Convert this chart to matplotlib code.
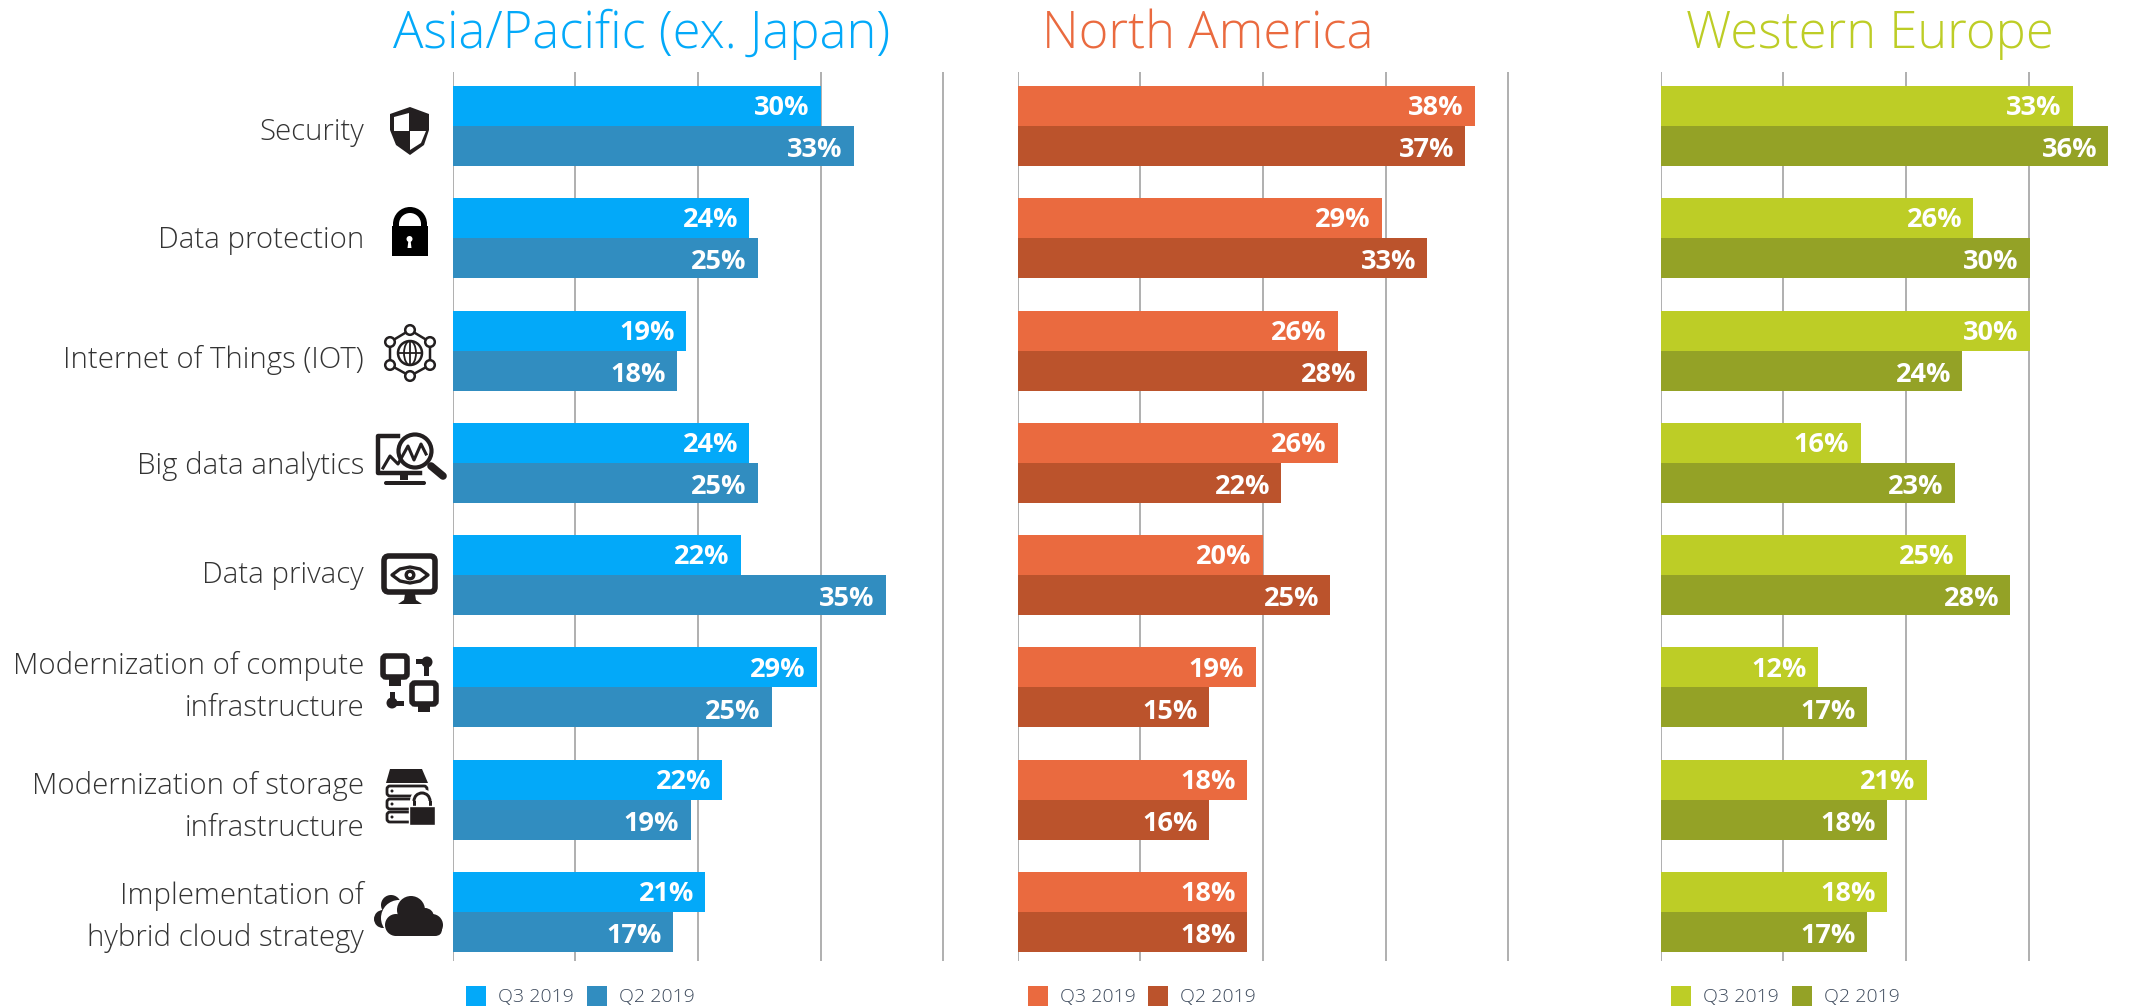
import numpy as np
import matplotlib
matplotlib.use("Agg")
import matplotlib.pyplot as plt
from matplotlib.patches import Circle, Ellipse, FancyBboxPatch, Polygon, Rectangle, Wedge

plt.rcParams["font.family"] = ["Open Sans", "DejaVu Sans"]

regions = ["Asia/Pacific (ex. Japan)", "North America", "Western Europe"]
q3_labels = [[30, 24, 19, 24, 22, 29, 22, 21],
             [38, 29, 26, 26, 20, 19, 18, 18],
             [33, 26, 30, 16, 25, 12, 21, 18]]
q2_labels = [[33, 25, 18, 25, 35, 25, 19, 17],
             [37, 33, 28, 22, 25, 15, 16, 18],
             [36, 30, 24, 23, 28, 17, 18, 17]]
# drawn bar lengths in the picture do not always agree with the printed labels
q3_bars = [[30.0, 24.2, 19.0, 24.2, 23.5, 29.7, 22.0, 20.6],
           [37.3, 29.7, 26.1, 26.1, 20.0, 19.4, 18.7, 18.7],
           [33.6, 25.5, 30.1, 16.3, 24.9, 12.8, 21.7, 18.5]]
q2_bars = [[32.7, 24.9, 18.3, 24.9, 35.3, 26.0, 19.4, 18.0],
           [36.5, 33.4, 28.5, 21.5, 25.5, 15.6, 15.6, 18.7],
           [36.5, 30.1, 24.6, 24.0, 28.5, 16.8, 18.5, 16.8]]
series_names = ["Q3 2019", "Q2 2019"]
q3_colors = ["#03A9F9", "#EA6A3F", "#BDCD26"]
q2_colors = ["#318DC0", "#BB532C", "#94A226"]
gridlines = [[0, 10, 20, 30, 40], [0, 10, 20, 30, 40], [0, 10, 20, 30]]
categories = [["Security"], ["Data protection"], ["Internet of Things (IOT)"],
              ["Big data analytics"], ["Data privacy"],
              ["Modernization of compute", "infrastructure"],
              ["Modernization of storage", "infrastructure"],
              ["Implementation of", "hybrid cloud strategy"]]
baselines = [[140], [248], [368], [474], [583], [674, 716], [794, 836], [904, 946]]

W, H = 2144, 1006
PX_PER_UNIT = 12.27
fig = plt.figure(figsize=(W / 100, H / 100), dpi=100, facecolor="white")

# pixel overlay for text, icons and legend
ov = fig.add_axes([0, 0, 1, 1], zorder=5)
ov.set_xlim(0, W)
ov.set_ylim(H, 0)
ov.axis("off")

axis_left = [452.5, 1017.5, 1660.5]
title_centers = [642, 1208, 1870]
legend_x = [(466, 587), (1028, 1148), (1671, 1792)]
y_top, y_bottom = 72, 961
first_center, step = 126, 112.29

for r, name in enumerate(regions):
    left = axis_left[r]
    ax = fig.add_axes([left / W, 0, (W - left) / W, 1], zorder=1)
    ax.patch.set_alpha(0)
    ax.set_xlim(0, (W - left) / PX_PER_UNIT)
    ax.set_ylim((H - first_center) / step, -first_center / step)
    ax.axis("off")
    ax.vlines(gridlines[r], (y_top - first_center) / step, (y_bottom - first_center) / step,
              color="#9a9a9a", lw=1.1, zorder=1)
    y = np.arange(8)
    h = 40 / step
    b3 = ax.barh(y - h / 2, q3_bars[r], height=h, color=q3_colors[r], zorder=2)
    b2 = ax.barh(y + h / 2, q2_bars[r], height=h, color=q2_colors[r], zorder=2)
    for bars, labels, dy in ((b3, q3_labels[r], -1.5), (b2, q2_labels[r], -3)):
        texts = ax.bar_label(bars, labels=[f"{v}%" for v in labels], label_type="edge", padding=-8,
                             color="white", fontsize=19.5, fontweight="bold", zorder=3)
        for t in texts:
            t.set_ha("right")
            t.xyann = (t.xyann[0], t.xyann[1] + dy)
    ov.text(title_centers[r], 48, name, color=q3_colors[r], fontsize=36.5, fontweight="light",
            ha="center", va="baseline")
    for k, xs in enumerate(legend_x[r]):
        ov.add_patch(Rectangle((xs, 986), 20, 20, color=(q3_colors, q2_colors)[k][r], lw=0))
        ov.text(xs + 32, 1002, series_names[k], color="#3d4a5c", fontsize=14, fontweight="light",
                ha="left", va="baseline")

for lines, ys in zip(categories, baselines):
    for line, yb in zip(lines, ys):
        ov.text(364, yb, line, color="#333333", fontsize=21.2, fontweight="light", ha="right", va="baseline")

ink = "#231f20"


def add(p):
    ov.add_patch(p)


# shield
add(Polygon([(410, 107), (429, 114), (429, 130), (424, 145), (410, 155), (396, 145), (390, 130), (390, 114)],
            closed=True, color=ink, lw=0))
add(Polygon([(409, 113), (409, 131), (394, 131), (394, 117)], closed=True, color="white", lw=0))
add(Polygon([(410, 131), (426, 131), (421, 143), (410, 150)], closed=True, color="white", lw=0))
# lock
add(Rectangle((392, 226), 36, 30, color="black", lw=0))
add(Wedge((410, 224), 17, 180, 360, width=6, color="black", lw=0))
add(Rectangle((393, 223), 6, 4, color="black", lw=0))
add(Rectangle((421, 223), 6, 4, color="black", lw=0))
add(Circle((409.5, 239), 3, color="white", lw=0))
add(Polygon([(408.5, 240), (410.5, 240), (411.5, 248), (407.5, 248)], color="white", lw=0))
# globe with network nodes
add(Circle((410, 353), 12, fc="none", ec=ink, lw=1.8))
add(Ellipse((410, 353), 12, 24, fc="none", ec=ink, lw=1.3))
ov.plot([398, 422], [353, 353], color=ink, lw=1.3)
ov.plot([410, 410], [341, 365], color=ink, lw=1.3)
nodes = [(410, 330), (410, 376), (390, 342), (430, 342), (390, 365), (430, 365)]
ring = [0, 3, 5, 1, 4, 2, 0]
ov.plot([nodes[i][0] for i in ring], [nodes[i][1] for i in ring], color=ink, lw=1.8)
for n in nodes:
    add(Circle(n, 4.8, fc="white", ec=ink, lw=1.8, zorder=4))
# monitor with magnifier
ov.plot([398, 378, 378, 420], [436, 436, 473, 473], color=ink, lw=3.2, solid_joinstyle="round")
add(Rectangle((400, 474), 8, 6, color=ink, lw=0))
add(FancyBboxPatch((384, 481), 42, 4, boxstyle="round,pad=0,rounding_size=2", color=ink, lw=0))
add(Circle((415, 451), 16.5, fc="white", ec=ink, lw=3, zorder=3))
ov.plot([383, 390, 398, 408, 414, 421, 426], [468, 456, 464, 446, 460, 444, 454], color=ink, lw=2.2, zorder=4)
ov.plot([431, 443], [466, 476], color=ink, lw=5.5, solid_capstyle="round", zorder=4)
# monitor with eye
add(FancyBboxPatch((384, 556), 51, 36, boxstyle="round,pad=0,rounding_size=5", fc="white", ec=ink, lw=4))
add(Polygon([(405, 594), (415, 594), (416, 600), (422, 604), (398, 604), (404, 600)], color=ink, lw=0))
t_eye = np.array([[392, 575], [400, 569], [410, 567], [420, 569], [428, 575], [420, 581], [410, 583], [400, 581]])
add(Polygon(t_eye, fc="white", ec=ink, lw=2.4, joinstyle="round"))
add(Circle((410, 575), 5.5, color=ink, lw=0))
add(Circle((410, 575), 2, color="white", lw=0))
# two computers with keys
add(FancyBboxPatch((383, 656), 24, 21, boxstyle="round,pad=0,rounding_size=3", fc="white", ec=ink, lw=4))
add(Rectangle((389, 679), 12, 7, color=ink, lw=0))
add(FancyBboxPatch((412, 683), 24, 21, boxstyle="round,pad=0,rounding_size=3", fc="white", ec=ink, lw=4))
add(Rectangle((418, 706), 12, 6, color=ink, lw=0))
add(Circle((427, 662), 5.5, color=ink, lw=0))
add(Rectangle((416, 659), 10, 5, color=ink, lw=0))
add(Rectangle((424, 664), 5, 12, color=ink, lw=0))
add(Circle((392, 703), 5.5, color=ink, lw=0))
add(Rectangle((390, 692), 5, 10, color=ink, lw=0))
add(Rectangle((394, 701), 10, 5, color=ink, lw=0))
# server stack with padlock
add(Polygon([(390, 769), (422, 769), (428, 783), (386, 783)], color=ink, lw=0))
for yy in (786, 799, 812):
    add(FancyBboxPatch((387, yy), 40, 10, boxstyle="round,pad=0,rounding_size=3", fc="white", ec=ink, lw=2))
    add(Circle((392, yy + 5), 1.5, color=ink, lw=0))
add(Wedge((422, 801), 12, 180, 360, color="white", lw=0, zorder=3))
add(Rectangle((410, 801), 24, 5, color="white", lw=0, zorder=3))
add(Wedge((422, 801), 9.5, 180, 360, width=3, color=ink, lw=0, zorder=3))
add(Rectangle((412.5, 801), 3, 6, color=ink, lw=0, zorder=3))
add(Rectangle((428.5, 801), 3, 6, color=ink, lw=0, zorder=3))
add(Rectangle((409, 806), 26, 19, fc=ink, ec="white", lw=1, zorder=3))
# clouds
for c, rad in (((391, 905), 10), ((383, 919), 9)):
    add(Circle(c, rad, color=ink, lw=0))
add(Rectangle((385, 908), 8, 16, color=ink, lw=0))
add(Circle((399, 918), 18, color="white", lw=0))
for c, rad in (((411, 910), 14), ((396, 925), 11), ((432, 925), 11), ((425, 917), 9)):
    add(Circle(c, rad, color=ink, lw=0))
add(FancyBboxPatch((392, 920), 50, 16, boxstyle="round,pad=0,rounding_size=7", color=ink, lw=0))

fig.savefig("out.png", dpi=100)
